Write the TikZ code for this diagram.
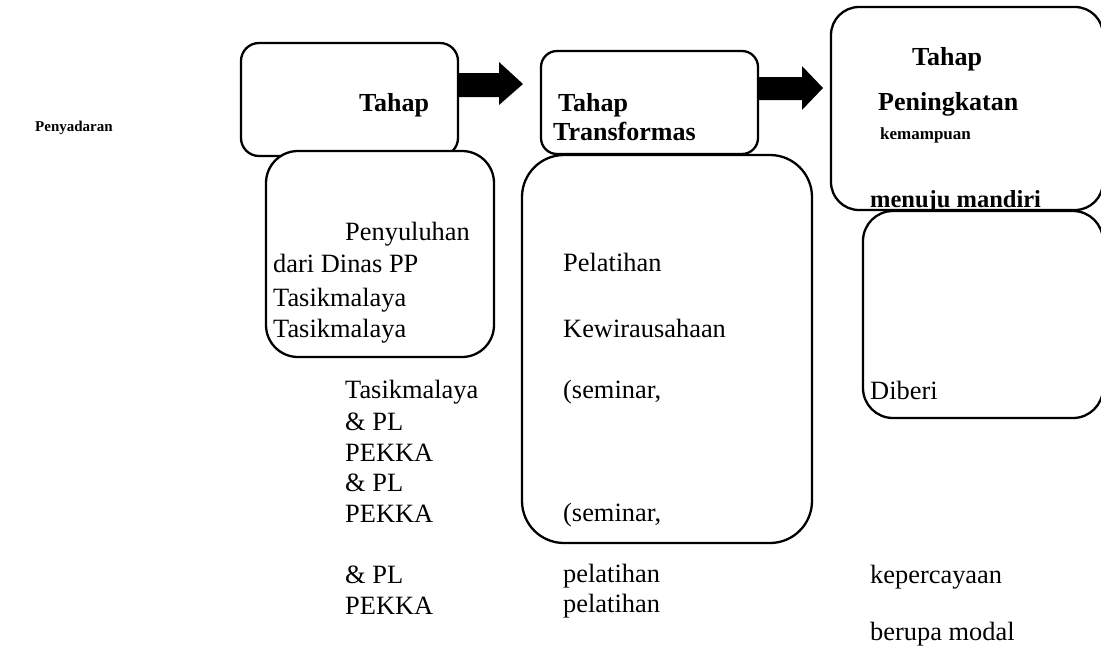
\documentclass[tikz,border=0pt]{standalone}
\usepackage{fontspec}
\setmainfont{Liberation Serif}
\begin{document}
\begin{tikzpicture}[x=1pt,y=-1pt,
  box/.style={draw,line width=2.3pt,fill=white,inner sep=0pt,outer sep=0pt,anchor=north west},
  txt/.style={anchor=base west,inner sep=0pt,font=\fontsize{26.4}{30}\selectfont},
  btxt/.style={anchor=base west,inner sep=0pt,font=\fontsize{26}{30}\selectfont\bfseries},
  blockarrow/.style={fill=black}]
\useasboundingbox (0,0) rectangle (1101,651);

% upper boxes
\node[box,rounded corners=18pt,minimum width=217pt,minimum height=113pt] (b1) at (241,43) {};
\node[box,rounded corners=16pt,minimum width=217pt,minimum height=103pt] (b2) at (541,51) {};
\node[box,rounded corners=28pt,minimum width=272pt,minimum height=203pt] (b3) at (831,7) {};

% block arrows
\fill[blockarrow] (b1.east |- 0,73) -- ++(41,0) -- ++(0,-11) -- ++(24,22) -- ++(-24,21) -- ++(0,-8) -- ++(-41,0) -- cycle;
\fill[blockarrow] (b2.east |- 0,77) -- ++(44,0) -- ++(0,-11) -- ++(21,22) -- ++(-21,22) -- ++(0,-10) -- ++(-44,0) -- cycle;

% texts of upper boxes
\node[btxt] (t1) at (359,111) {Tahap};
\node[btxt] (t2a) at (558,111) {Tahap};
\node[btxt] (t2b) at (553,140) {Transformas};
\node[btxt] (t3a) at (912,65) {Tahap};
\node[btxt] (t3b) at (878,110) {Peningkatan};
\node[anchor=base west,inner sep=0pt,font=\fontsize{17}{20}\selectfont\bfseries] (t3c) at (880,139) {kemampuan};
\node[anchor=base west,inner sep=0pt,font=\fontsize{24.5}{28}\selectfont\bfseries] (t3d) at (870,207) {menuju mandiri};
\node[anchor=base west,inner sep=0pt,font=\fontsize{15}{18}\selectfont\bfseries] (t0) at (35,131) {Penyadaran};

% lower boxes
\node[box,rounded corners=32pt,minimum width=228pt,minimum height=206pt] (b4) at (266,151) {};
\node[box,rounded corners=42pt,minimum width=290pt,minimum height=388pt] (b5) at (522,155) {};
\node[box,rounded corners=30pt,minimum width=240pt,minimum height=207pt] (b6) at (863,211) {};

% column 1 texts
\node[txt] (c1a) at (345,240) {Penyuluhan};
\node[txt] (c1b) at (273,272) {dari Dinas PP};
\node[txt] (c1c) at (273,306) {Tasikmalaya};
\node[txt] (c1d) at (273,337) {Tasikmalaya};
\node[txt] (c1e) at (345,398) {Tasikmalaya};
\node[txt] (c1f) at (345,430) {\& PL};
\node[txt] (c1g) at (345,461) {PEKKA};
\node[txt] (c1h) at (345,491) {\& PL};
\node[txt] (c1i) at (345,522) {PEKKA};
\node[txt] (c1j) at (345,583) {\& PL};
\node[txt] (c1k) at (345,614) {PEKKA};

% column 2 texts
\node[txt] (c2a) at (563,271) {Pelatihan};
\node[txt] (c2b) at (563,337) {Kewirausahaan};
\node[txt] (c2c) at (563,398) {(seminar,};
\node[txt] (c2d) at (563,521) {(seminar,};
\node[txt] (c2e) at (563,582) {pelatihan};
\node[txt] (c2f) at (563,612) {pelatihan};

% column 3 texts
\node[txt] (c3a) at (870,399) {Diberi};
\node[txt] (c3b) at (870,583) {kepercayaan};
\node[txt] (c3c) at (870,640) {berupa modal};
\end{tikzpicture}
\end{document}
